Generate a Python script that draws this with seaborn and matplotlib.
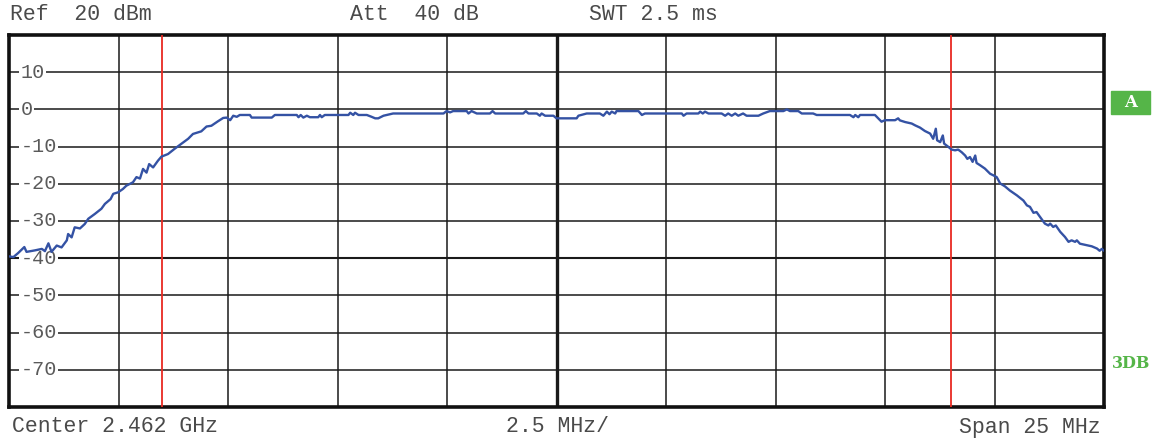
import numpy as np
import pandas as pd
import seaborn as sns
import matplotlib.pyplot as plt
from matplotlib.patches import Rectangle

# analyzer settings
center_mhz = 2462.0
span_mhz = 25.0
ref_level = 20
marker_offsets = [-9.0, 9.0]  # red display lines, MHz from center

# trace: offset from center (MHz), level (dBm)
freq_offset = [
    -12.50, -12.40, -12.29, -12.15, -12.10, -11.91, -11.75, -11.68, -11.60, -11.53,
    -11.41, -11.30, -11.18, -11.15, -11.07, -11.00, -10.88, -10.77, -10.69, -10.54,
    -10.39, -10.31, -10.18, -10.12, -10.01, -9.90, -9.82, -9.67, -9.59, -9.51,
    -9.44, -9.36, -9.30, -9.21, -9.10, -9.02, -8.87, -8.72, -8.57, -8.41,
    -8.30, -8.11, -7.99, -7.88, -7.73, -7.61,
    -7.53, -7.45, -7.38, -7.30, -7.23, -7.00, -6.96, -6.50, -6.43, -5.93,
    -5.89, -5.84, -5.78, -5.70, -5.63, -5.44, -5.40, -5.36, -5.29, -4.75,
    -4.71, -4.64, -4.60, -4.52, -4.33, -4.22, -4.14, -4.07, -3.95, -3.73,
    -2.58, -2.51, -2.43, -2.36, -2.05, -2.01, -1.94, -1.82, -1.52, -1.46,
    -1.40, -0.76, -0.70, -0.64, -0.45, -0.38, -0.34, -0.26, -0.07, 0.00, 0.31,
    0.46, 0.50, 0.69, 0.99, 1.07, 1.15, 1.21, 1.26, 1.34, 1.37,
    1.87, 1.95, 2.02, 2.86, 2.90, 2.97, 3.24, 3.28, 3.34, 3.39,
    3.47, 3.77, 3.85, 3.92, 4.00, 4.08, 4.15, 4.26, 4.34, 4.61,
    4.72, 4.87, 5.18, 5.26, 5.33, 5.52, 5.60, 5.86, 5.94, 6.70,
    6.78, 6.82, 6.89, 6.93, 7.27, 7.42, 7.50, 7.73, 7.80,
    7.84, 7.96, 8.11, 8.19, 8.30, 8.41, 8.53, 8.60, 8.66, 8.69,
    8.76, 8.82, 8.85, 8.95, 9.02, 9.10, 9.17, 9.25, 9.33, 9.38,
    9.44, 9.50, 9.56, 9.59, 9.67, 9.78, 9.90, 9.97, 10.05, 10.13,
    10.24, 10.35, 10.51, 10.66, 10.74, 10.81, 10.89, 10.96, 11.04, 11.15,
    11.23, 11.27, 11.34, 11.40, 11.50, 11.61, 11.69, 11.76, 11.84, 11.88,
    11.95, 12.11, 12.22, 12.34, 12.40, 12.45, 12.50,
]
level_dbm = [
    -39.5, -39.7, -38.6, -37.0, -38.3, -37.9, -37.5, -38.1, -36.0, -38.3,
    -36.6, -37.1, -35.2, -33.5, -34.4, -31.7, -32.0, -30.8, -29.4, -28.1,
    -26.7, -25.4, -24.1, -22.7, -22.3, -21.4, -20.5, -19.6, -18.2, -18.6,
    -16.0, -17.0, -14.7, -15.6, -13.8, -12.7, -12.0, -10.6, -9.3, -7.9,
    -6.6, -5.9, -4.6, -4.4, -3.2, -2.3,
    -2.2, -2.9, -1.7, -2.0, -1.5, -1.5, -2.2, -2.2, -1.5, -1.5,
    -2.1, -1.5, -2.2, -1.7, -2.1, -2.1, -1.5, -2.1, -1.5, -1.5,
    -0.9, -1.5, -0.9, -1.5, -1.5, -2.0, -2.4, -2.4, -1.7, -1.1,
    -1.1, -0.45, -0.8, -0.45, -0.45, -1.1, -0.45, -1.1, -1.1, -0.45,
    -1.1, -1.1, -0.45, -1.1, -1.1, -1.7, -1.1, -1.7, -1.7, -2.4, -2.4,
    -2.4, -1.7, -1.1, -1.1, -1.7, -0.6, -1.3, -0.6, -1.1, -0.45,
    -0.45, -1.5, -1.1, -1.1, -1.7, -1.1, -1.1, -0.6, -1.1, -0.6,
    -1.1, -1.1, -1.7, -1.1, -1.7, -1.1, -1.7, -1.1, -1.7, -1.7,
    -1.1, -0.45, -0.45, 0.0, -0.45, -0.45, -1.1, -1.1, -1.5, -1.5,
    -2.1, -1.5, -2.1, -1.5, -1.5, -3.3, -2.9, -2.9, -2.4,
    -2.95, -3.4, -3.8, -4.3, -4.9, -5.8, -6.5, -7.9, -5.2, -8.3,
    -8.8, -7.0, -9.2, -10.1, -10.8, -11.0, -10.8, -11.5, -12.4, -13.3,
    -12.8, -14.1, -12.4, -14.4, -15.0, -15.9, -17.3, -17.7, -18.2, -19.9,
    -20.7, -21.8, -23.1, -24.5, -25.8, -26.2, -27.8, -27.6, -28.9, -30.7,
    -31.2, -30.7, -31.6, -31.2, -32.9, -34.3, -35.6, -35.2, -35.6, -35.2,
    -36.1, -36.5, -36.8, -37.4, -38.0, -37.5, -38.0,
]
level_ticks = [10, 0, -10, -20, -30, -40, -50, -60, -70]

trace = pd.DataFrame({
    "freq": [center_mhz + f for f in freq_offset],
    "level": level_dbm,
})

sns.set_style("white")
plt.rcParams["font.family"] = ["Liberation Mono", "DejaVu Sans Mono"]

W, H = 1158, 442
fig = plt.figure(figsize=(W / 100, H / 100), dpi=100)
ax = fig.add_axes([9 / W, 35 / H, 1095 / W, 372 / H])

f0 = center_mhz - span_mhz / 2
f1 = center_mhz + span_mhz / 2
ax.set_xlim(f0, f1)
ax.set_ylim(ref_level - 100, ref_level)

# graticule
grid_col = "#1a1a1a"
for k in range(1, 10):
    x = f0 + k * span_mhz / 10
    ax.axvline(x, color=grid_col, lw=2.4 if k == 5 else 1.1, zorder=1)
for lv in level_ticks:
    ax.axhline(lv, color=grid_col, lw=1.5 if lv == -40 else 1.1, zorder=1)
for spine in ax.spines.values():
    spine.set_linewidth(2.6)
    spine.set_color("#111111")
ax.set_xticks([])
ax.set_yticks([])

# level labels sit on the grid lines
for lv in level_ticks:
    ax.text(0.0105, lv, str(lv), transform=ax.get_yaxis_transform(),
            ha="left", va="center", fontsize=14.5, color="#5a5a5a", zorder=2,
            bbox=dict(facecolor="white", edgecolor="none", pad=1.2))

for m in marker_offsets:
    ax.axvline(center_mhz + m, color="#e82a22", lw=1.3, zorder=3)

sns.lineplot(data=trace, x="freq", y="level", sort=False, estimator=None,
             color="#3452a4", lw=1.7, ax=ax, zorder=4)
ax.set_xlabel("")
ax.set_ylabel("")

# header / footer annotations
txt = dict(fontsize=15.5, color="#4a4a4a", va="center")
fig.text(10 / W, 1 - 14 / H, "Ref  20 dBm", **txt)
fig.text(350 / W, 1 - 14 / H, "Att  40 dB", **txt)
fig.text(589 / W, 1 - 14 / H, "SWT 2.5 ms", **txt)
fig.text(12 / W, 1 - 427 / H, "Center 2.462 GHz", **txt)
fig.text(506 / W, 1 - 427 / H, "2.5 MHz/", **txt)
fig.text(959 / W, 1 - 427 / H, "Span 25 MHz", **txt)

# trace / line indicators at right
green = "#55b548"
fig.patches.append(Rectangle((1111 / W, 1 - 114 / H), 39 / W, 23 / H,
                             transform=fig.transFigure, color=green))
fig.text(1130.5 / W, 1 - 102.5 / H, "A", ha="center", va="center",
         fontsize=12, fontweight="bold", color="white", family="DejaVu Serif")
fig.text(1131.5 / W, 1 - 364 / H, "3DB", ha="center", va="center",
         fontsize=11.5, fontweight="bold", color=green, family="DejaVu Serif")

fig.savefig("out.png", dpi=100)
